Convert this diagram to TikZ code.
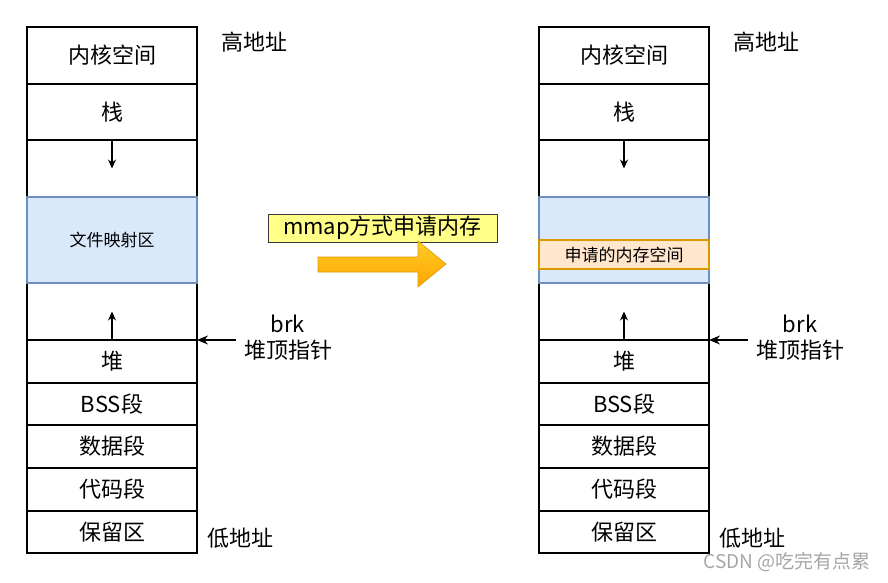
\documentclass[tikz,border=0pt]{standalone}
\usepackage{fontspec}
\setmainfont{Noto Sans CJK SC}
\usepackage{tikz}
\usetikzlibrary{arrows.meta,positioning}
\definecolor{mapfill}{HTML}{DAE8FC}
\definecolor{mapline}{HTML}{6C8EBF}
\definecolor{reqfill}{HTML}{FFE6CC}
\definecolor{reqline}{HTML}{D79B00}
\definecolor{ttlfill}{HTML}{FFFF88}
\definecolor{ttlline}{HTML}{36393D}
\definecolor{arrtop}{HTML}{FFCD28}
\definecolor{arrbot}{HTML}{FFA500}

\begin{document}
\begin{tikzpicture}[x=1pt,y=-1pt,
  cell/.style={draw=black,line width=1.3pt,minimum width=170pt,inner sep=0pt,outer sep=0pt,font=\fontsize{22}{26}\selectfont},
  mapcell/.style={cell,fill=mapfill,draw=mapline,font=\fontsize{17}{20}\selectfont},
  reqcell/.style={cell,fill=reqfill,draw=reqline,minimum height=29pt,font=\fontsize{17}{20}\selectfont},
  lbl/.style={inner sep=0pt,font=\fontsize{22}{26}\selectfont,align=center},
  growarrow/.style={line width=1.3pt,-{Stealth[length=9pt,width=8pt]}},
  ptrarrow/.style={line width=1.3pt,-{Stealth[length=11pt,width=9pt]}}]
\useasboundingbox (0,0) rectangle (888,582);

\node[cell,minimum height=57pt] (k1) at (112,55.5) {内核空间};
\node[cell,minimum height=56pt,below=0pt of k1] (s1) {栈};
\node[cell,minimum height=57pt,below=0pt of s1] (g1) {};
\node[cell,minimum height=42pt] (r1) at (112,532) {保留区};
\node[cell,minimum height=43pt,above=0pt of r1] (c1) {代码段};
\node[cell,minimum height=43pt,above=0pt of c1] (d1) {数据段};
\node[cell,minimum height=42pt,above=0pt of d1] (b1) {BSS段};
\node[cell,minimum height=43pt,above=0pt of b1] (h1) {堆};
\node[cell,minimum height=57pt,above=0pt of h1] (e1) {};
\node[mapcell,minimum height=86pt,below=0pt of g1] (f1) {文件映射区};
\draw[growarrow] (g1.north) -- (g1.center);
\draw[growarrow] (e1.south) -- (e1.center);
\node[lbl] (hi1) at (254,42) {高地址};
\node[lbl] (lo1) at (240,538) {低地址};
\node[lbl] (ptr1) at (288,338) {brk\\堆顶指针};
\draw[ptrarrow] ([xshift=-8pt]ptr1.west |- h1.north) -- (h1.north east);

\node[draw=ttlline,fill=ttlfill,line width=1pt,minimum width=229pt,minimum height=28pt,inner sep=0pt,font=\fontsize{22}{26}\selectfont] (ttl) at (382.5,228) {mmap方式申请内存};
\shade[top color=arrtop,bottom color=arrbot,draw=reqline,line width=0.6pt]
  (318,257) -- (418,257) -- (418,241) -- (446,264) -- (418,287) -- (418,272) -- (318,272) -- cycle;

\node[cell,minimum height=57pt] (k2) at (624,55.5) {内核空间};
\node[cell,minimum height=56pt,below=0pt of k2] (s2) {栈};
\node[cell,minimum height=57pt,below=0pt of s2] (g2) {};
\node[cell,minimum height=42pt] (r2) at (624,532) {保留区};
\node[cell,minimum height=43pt,above=0pt of r2] (c2) {代码段};
\node[cell,minimum height=43pt,above=0pt of c2] (d2) {数据段};
\node[cell,minimum height=42pt,above=0pt of d2] (b2) {BSS段};
\node[cell,minimum height=43pt,above=0pt of b2] (h2) {堆};
\node[cell,minimum height=57pt,above=0pt of h2] (e2) {};
\node[mapcell,minimum height=86pt,below=0pt of g2] (f2) {};
\node[reqcell] (q2) at (624,254.5) {申请的内存空间};
\draw[growarrow] (g2.north) -- (g2.center);
\draw[growarrow] (e2.south) -- (e2.center);
\node[lbl] (hi2) at (766,42) {高地址};
\node[lbl] (lo2) at (752,538) {低地址};
\node[lbl] (ptr2) at (800,338) {brk\\堆顶指针};
\draw[ptrarrow] ([xshift=-8pt]ptr2.west |- h2.north) -- (h2.north east);

\node[inner sep=0pt,text=black!35,font=\fontsize{19}{22}\selectfont] (wm) at (787,562) {CSDN @吃完有点累};
\end{tikzpicture}
\end{document}
